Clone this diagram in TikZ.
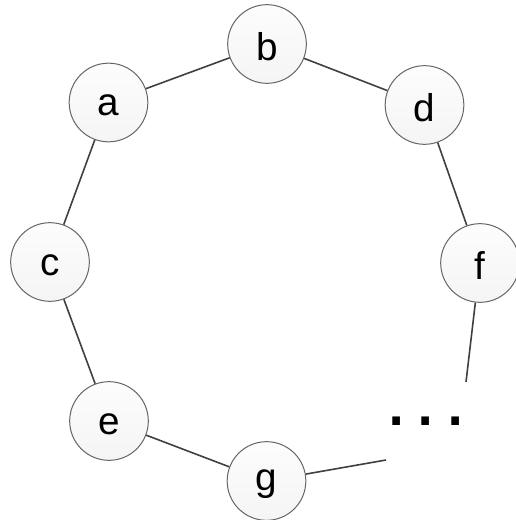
\documentclass[tikz,border=0pt]{standalone}
\usepackage{fontspec}
\setmainfont{Liberation Sans}
\newcommand{\lowlbl}[1]{\raisebox{-2.2pt}[\height][\depth]{#1}}
\begin{document}
\begin{tikzpicture}[x=0.75pt,y=-0.75pt,
  vnode/.style={circle,draw=black!60,line width=0.75pt,minimum size=59pt,inner sep=0pt,
    top color=black!1,bottom color=black!4,font=\fontsize{29}{34}\selectfont},
  link/.style={draw=black!75,line width=1.2pt}]
\useasboundingbox (0,0) rectangle (516,520);
\node[vnode] (b) at (267,44) {\lowlbl{b}};
\node[vnode] (a) at (108.5,102.5) {\lowlbl{a}};
\node[vnode] (d) at (424.5,105) {\lowlbl{d}};
\node[vnode] (c) at (50,262) {\lowlbl{c}};
\node[vnode] (f) at (480,263) {\lowlbl{f}};
\node[vnode] (e) at (109,421) {\lowlbl{e}};
\node[vnode] (g) at (266.5,481) {\lowlbl{g}};
\coordinate (fe) at (466,382);
\coordinate (ge) at (386,460);
\node[anchor=base west,inner sep=0pt,font=\fontsize{60}{70}\selectfont] (dots) at (385,425) {.\kern5.5pt.\kern5.5pt.};
\draw[link] (a) -- (b);
\draw[link] (b) -- (d);
\draw[link] (a) -- (c);
\draw[link] (d) -- (f);
\draw[link] (c) -- (e);
\draw[link] (e) -- (g);
\draw[link] (f) -- (fe);
\draw[link] (g) -- (ge);
\end{tikzpicture}
\end{document}
